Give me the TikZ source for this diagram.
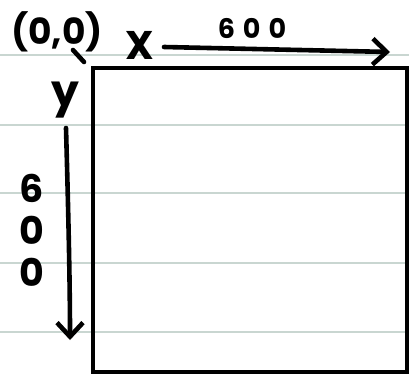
\documentclass[tikz,border=0pt]{standalone}
\usepackage{fontspec}
\setmainfont{Poppins}
\usetikzlibrary{arrows.meta}
\definecolor{rule}{HTML}{C9D6D1}
\tikzset{
  ruleline/.style={draw=rule, line width=1.2pt},
  ink/.style={line width=4.6pt, line cap=round, line join=round},
  canvasbox/.style={draw, line width=4.6pt, minimum width=314pt, minimum height=304pt, inner sep=0pt},
  hand/.style={inner sep=0pt, font=\bfseries\fontsize{36}{36}\selectfont},
  barb/.style={-{Straight Barb[length=14pt, width=26pt, line width=4.6pt]}},
}
\begin{document}
\begin{tikzpicture}[x=1pt, y=-1pt]
\useasboundingbox (0,0) rectangle (409,383);
\fill[white] (0,0) rectangle (409,383);
\foreach \yy in {55,125,193,263,332} \draw[ruleline] (0,\yy) -- (409,\yy);
\node[canvasbox] (canvas) at (250,220) {};
\node[hand] (origin) at (57,32) {(0,0)};
\node[hand, font=\bfseries\fontsize{40}{40}\selectfont] (xlab) at (140,45) {X};
\node[hand, font=\bfseries\fontsize{27}{27}\selectfont] (xnum) at (252,28) {6\hspace{8pt}0\hspace{8pt}0};
\node[hand, font=\bfseries\fontsize{44}{44}\selectfont] (ylab) at (65,100) {y};
\node[hand, align=center, font=\bfseries\fontsize{38}{42}\selectfont] (ynum) at (32,230) {6\\0\\0};
\coordinate (tickA) at (73,50);
\coordinate (tickB) at (84,62);
\draw[ink] (tickA) -- (tickB);
\coordinate (xs) at (164,47);
\coordinate (xe) at (390,52);
\draw[ink, barb] (xs) -- (xe);
\coordinate (ys) at (66,128);
\coordinate (ye) at (70,340);
\draw[ink, barb] (ys) .. controls (68,200) and (70,280) .. (ye);
\end{tikzpicture}
\end{document}
